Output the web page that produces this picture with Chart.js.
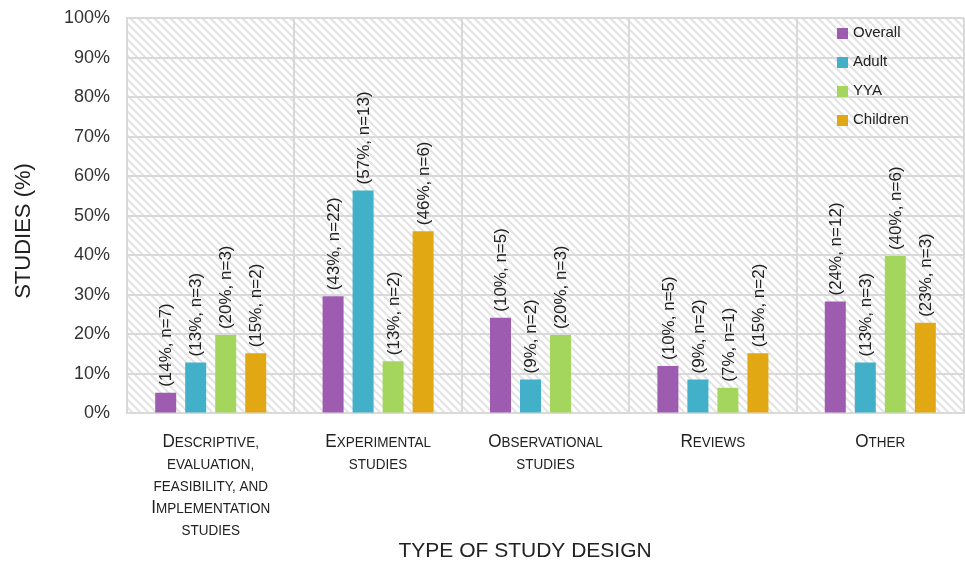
<!DOCTYPE html>
<html>
<head>
<meta charset="utf-8">
<script src="https://cdn.jsdelivr.net/npm/chart.js@4.4.1/dist/chart.umd.min.js"></script>
<style>
  body { margin: 0; background: #fff; }
  #wrap { width: 965px; height: 564px; }
</style>
</head>
<body>
<div id="wrap"><canvas id="studyChart" width="965" height="564"></canvas></div>
<script>
// categories (x axis, multi-line)
const categories = [
    ['Descriptive,', 'evaluation,', 'feasibility, and', 'Implementation', 'studies'],
    ['Experimental', 'studies'],
    ['Observational', 'studies'],
    ['Reviews'],
    ['Other']
];

const seriesNames = ['Overall', 'Adult', 'YYA', 'Children'];
const seriesColors = ['#9e5cb1', '#41b0c8', '#a4d65e', '#e1a814'];

// bar heights (%) as drawn in the picture
const overallValues = [5.2, 29.6, 24.2, 12.0, 28.3];
const adultValues = [12.9, 56.4, 8.6, 8.6, 12.9];
const yyaValues = [19.8, 13.2, 19.8, 6.5, 39.8];
const childrenValues = [15.2, 46.1, null, 15.2, 22.9];

// text written above each bar
const overallLabels = ['(14%, n=7)', '(43%, n=22)', '(10%, n=5)', '(10%, n=5)', '(24%, n=12)'];
const adultLabels = ['(13%, n=3)', '(57%, n=13)', '(9%, n=2)', '(9%, n=2)', '(13%, n=3)'];
const yyaLabels = ['(20%, n=3)', '(13%, n=2)', '(20%, n=3)', '(7%, n=1)', '(40%, n=6)'];
const childrenLabels = ['(15%, n=2)', '(46%, n=6)', null, '(15%, n=2)', '(23%, n=3)'];

const yTicks = [0, 10, 20, 30, 40, 50, 60, 70, 80, 90, 100];

const FONT = "'Liberation Sans', Arial, sans-serif";

const allValues = [overallValues, adultValues, yyaValues, childrenValues];
const allLabels = [overallLabels, adultLabels, yyaLabels, childrenLabels];

/**
 * Diagonal hatch used behind the plot.
 */
function makeHatch() {
    const c = document.createElement('canvas');
    c.width = 8;
    c.height = 8;
    const g = c.getContext('2d');
    g.fillStyle = '#ffffff';
    g.fillRect(0, 0, 8, 8);
    g.strokeStyle = '#e3e3e3';
    g.lineWidth = 2;
    g.beginPath();
    g.moveTo(-2, -2); g.lineTo(10, 10);
    g.moveTo(-10, -2); g.lineTo(2, 10);
    g.moveTo(6, -2); g.lineTo(18, 10);
    g.stroke();
    return g.createPattern(c, 'repeat');
}

const hatchPlugin = {
    id: 'hatch',
    beforeDraw(chart) {
        const a = chart.chartArea;
        const ctx = chart.ctx;
        ctx.save();
        ctx.fillStyle = makeHatch();
        ctx.fillRect(a.left, a.top, a.right - a.left, a.bottom - a.top);
        ctx.restore();
    }
};

const barTextPlugin = {
    id: 'barText',
    afterDatasetsDraw(chart) {
        const ctx = chart.ctx;
        ctx.save();
        ctx.font = '17px ' + FONT;
        ctx.fillStyle = '#222222';
        ctx.textAlign = 'left';
        ctx.textBaseline = 'middle';
        chart.data.datasets.forEach((ds, di) => {
            const meta = chart.getDatasetMeta(di);
            meta.data.forEach((bar, i) => {
                const txt = allLabels[di][i];
                if (!txt || ds.data[i] === null) return;
                ctx.save();
                ctx.translate(bar.x + 1, bar.y - 6);
                ctx.rotate(-Math.PI / 2);
                ctx.fillText(txt, 0, 0);
                ctx.restore();
            });
        });
        ctx.restore();
    }
};

// x tick labels in small caps (canvas has no small-caps via Chart.js font)
const BIG = 19, SMALL = 15, SQUEEZE = 0.9;

function capsRuns(line) {
    const runs = [];
    for (const ch of line) {
        const big = ch >= 'A' && ch <= 'Z';
        const last = runs[runs.length - 1];
        if (last && last.big === big) last.text += ch.toUpperCase();
        else runs.push({ big: big, text: ch.toUpperCase() });
    }
    return runs;
}

const smallCapsPlugin = {
    id: 'smallCaps',
    afterDraw(chart) {
        const ctx = chart.ctx;
        const xs = chart.scales.x;
        ctx.save();
        ctx.fillStyle = '#222222';
        ctx.textBaseline = 'alphabetic';
        ctx.textAlign = 'left';
        chart.data.labels.forEach((lines, i) => {
            const cx = xs.getPixelForValue(i);
            lines.forEach((line, li) => {
                const runs = capsRuns(line);
                let w = 0;
                runs.forEach(r => {
                    ctx.font = (r.big ? BIG : SMALL) + 'px ' + FONT;
                    r.w = ctx.measureText(r.text).width;
                    w += r.w;
                });
                const y = xs.top + 33.5 + li * 22.1;
                ctx.save();
                ctx.translate(cx, y);
                ctx.scale(SQUEEZE, 1);
                let x = -w / 2;
                runs.forEach(r => {
                    ctx.font = (r.big ? BIG : SMALL) + 'px ' + FONT;
                    ctx.fillText(r.text, x, 0);
                    x += r.w;
                });
                ctx.restore();
            });
        });
        ctx.restore();
    }
};

const legendPlugin = {
    id: 'cornerLegend',
    afterDraw(chart) {
        const ctx = chart.ctx;
        const a = chart.chartArea;
        const x = a.right - 127;
        ctx.save();
        ctx.font = '15px ' + FONT;
        ctx.textAlign = 'left';
        ctx.textBaseline = 'middle';
        chart.data.datasets.forEach((ds, i) => {
            const y = a.top + 15 + i * 29;
            ctx.fillStyle = ds.backgroundColor;
            ctx.fillRect(x, y - 5, 11, 11);
            ctx.fillStyle = '#222222';
            ctx.fillText(ds.label, x + 16, y);
        });
        ctx.restore();
    }
};

const datasets = seriesNames.map((name, i) => ({
    label: name,
    data: allValues[i],
    backgroundColor: seriesColors[i],
    borderWidth: 0,
    barPercentage: 0.7,
    categoryPercentage: 0.717
}));

new Chart(document.getElementById('studyChart'), {
    type: 'bar',
    data: { labels: categories, datasets: datasets },
    plugins: [hatchPlugin, barTextPlugin, smallCapsPlugin, legendPlugin],
    options: {
        responsive: false,
        animation: false,
        layout: { padding: { top: 18, right: 1, left: 0, bottom: 0 } },
        plugins: {
            legend: { display: false },
            tooltip: { enabled: false }
        },
        scales: {
            x: {
                grid: { color: '#d9d9d9', lineWidth: 2, drawTicks: false },
                border: { color: '#d9d9d9', width: 2 },
                ticks: {
                    // real labels drawn by smallCapsPlugin; these only reserve room
                    color: 'rgba(0,0,0,0)',
                    padding: 5.5,
                    maxRotation: 0,
                    font: { family: FONT, size: 19, lineHeight: 1.162 }
                },
                title: {
                    display: true,
                    text: 'TYPE OF STUDY DESIGN       ',
                    color: '#222222',
                    font: { family: FONT, size: 21 },
                    padding: { top: 4, bottom: 0 }
                }
            },
            y: {
                min: 0,
                max: 100,
                afterBuildTicks(scale) {
                    scale.ticks = yTicks.map(v => ({ value: v }));
                },
                afterFit(scale) {
                    scale.width = 127;
                },
                grid: {
                    color: '#d9d9d9',
                    lineWidth: 2,
                    drawTicks: true,
                    tickLength: 17,
                    tickColor: 'rgba(0,0,0,0)'
                },
                border: { color: '#d9d9d9', width: 2 },
                ticks: {
                    color: '#333333',
                    padding: 0,
                    font: { family: FONT, size: 18 },
                    callback: v => v + '%'
                },
                title: {
                    display: true,
                    text: 'STUDIES (%)     ',
                    color: '#222222',
                    font: { family: FONT, size: 22 },
                    padding: { top: 11, bottom: 0 }
                }
            }
        }
    }
});
</script>
</body>
</html>
